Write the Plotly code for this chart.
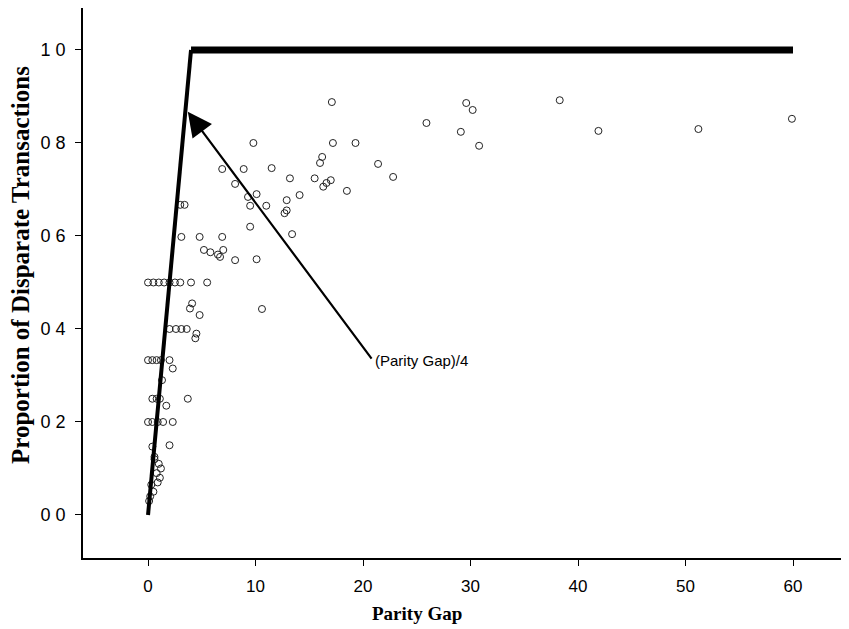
import plotly.graph_objects as go

# Observed transactions: parity gap vs proportion of disparate transactions
gap = [0, 0.5, 1, 1.5, 2, 2.5, 3, 4.0, 5.5,
       0, 0.4, 0.8, 1.2, 2.0,
       2.0, 2.6, 3.1, 3.6,
       3.0, 3.4,
       4.1, 3.9, 4.4, 4.5, 4.8,
       0.4, 0.8, 1.1, 1.7, 3.7,
       0, 0.4, 0.9, 1.4, 2.3,
       1.3, 2.3, 0.4, 2.0,
       0.6, 1.0, 1.2, 0.8, 1.1, 0.9, 0.3, 0.5, 0.2, 0.6, 0.1,
       3.1, 4.8, 6.9, 5.2, 5.8, 6.5, 7.0, 6.7, 8.1, 10.1, 10.6,
       6.9, 8.9, 11.5, 8.1, 10.1, 9.3, 9.5, 11.0, 9.5, 9.8,
       13.2, 12.9, 14.1, 12.7, 12.9, 13.4,
       15.5, 16.0, 16.2, 16.6, 16.3, 17.0, 18.5, 17.2, 19.3, 17.1,
       21.4, 22.8, 25.9, 29.1, 29.6, 30.2, 30.8, 38.3, 41.9, 51.2, 59.9]
prop = [0.5, 0.5, 0.5, 0.5, 0.5, 0.5, 0.5, 0.5, 0.5,
        0.333, 0.333, 0.333, 0.333, 0.333,
        0.4, 0.4, 0.4, 0.4,
        0.667, 0.667,
        0.455, 0.444, 0.38, 0.39, 0.43,
        0.25, 0.25, 0.25, 0.235, 0.25,
        0.2, 0.2, 0.2, 0.2, 0.2,
        0.29, 0.315, 0.147, 0.15,
        0.125, 0.11, 0.1, 0.09, 0.08, 0.07, 0.065, 0.05, 0.04, 0.12, 0.03,
        0.598, 0.598, 0.598, 0.57, 0.565, 0.56, 0.57, 0.555, 0.548, 0.55, 0.443,
        0.744, 0.744, 0.746, 0.712, 0.69, 0.684, 0.665, 0.665, 0.62, 0.80,
        0.724, 0.677, 0.688, 0.649, 0.655, 0.604,
        0.724, 0.757, 0.77, 0.714, 0.706, 0.72, 0.697, 0.80, 0.80, 0.888,
        0.755, 0.727, 0.843, 0.824, 0.886, 0.871, 0.794, 0.892, 0.826, 0.83, 0.852]

# Reference curve (Parity Gap)/4, capped at 1
ramp_x = [0, 4]
ramp_y = [0, 1]
cap_x = [4, 60]
cap_y = [1, 1]

x_ticks = [0, 10, 20, 30, 40, 50, 60]
y_ticks = [0.0, 0.2, 0.4, 0.6, 0.8, 1.0]
y_ticktext = ["0 0", "0 2", "0 4", "0 6", "0 8", "1 0"]

fig = go.Figure()
fig.add_trace(go.Scatter(x=gap, y=prop, mode="markers",
                         marker=dict(symbol="circle-open", size=7,
                                     color="#222", line=dict(width=1)),
                         showlegend=False, hoverinfo="skip"))
fig.add_trace(go.Scatter(x=ramp_x, y=ramp_y, mode="lines",
                         line=dict(color="black", width=4),
                         showlegend=False))
fig.add_trace(go.Scatter(x=cap_x, y=cap_y, mode="lines",
                         line=dict(color="black", width=7),
                         showlegend=False))

fig.add_annotation(x=3.7, y=0.867, ax=20.9, ay=0.333, axref="x", ayref="y",
                   xref="x", yref="y", text="", showarrow=True,
                   arrowhead=2, arrowsize=2.2, arrowwidth=2.2,
                   arrowcolor="black")
fig.add_annotation(x=20.9, y=0.333, xref="x", yref="y",
                   text="(Parity Gap)/4", showarrow=False,
                   xanchor="left", yanchor="middle",
                   font=dict(family="Liberation Sans, Arial", size=15, color="black"))

# The page body adds an 8px offset; layout numbers below are canvas pixels
OFF = 8
W, H = 849 - OFF, 629 - OFF
L, R, T, B = 75, 0, 0, 71
pw, ph = W - L - R, H - T - B

# Axis titles (positions given in window pixels)
titles = [
    ("<b>Proportion of Disparate Transactions</b>", 20, 265, -90, 25),
    ("<b>Parity Gap</b>", 417, 613, 0, 19),
]
for text, px, py, ang, fs in titles:
    fig.add_annotation(x=(px - OFF - L) / pw, y=(H - B - (py - OFF)) / ph,
                       xref="paper", yref="paper", text=text, showarrow=False,
                       textangle=ang, xanchor="center", yanchor="middle",
                       font=dict(family="Liberation Serif, Times New Roman",
                                 size=fs, color="black"))

fig.update_layout(
    width=W, height=H,
    margin=dict(l=L, r=R, t=T, b=B),
    paper_bgcolor="white", plot_bgcolor="white",
    showlegend=False,
)
fig.update_xaxes(range=[-6.05, 65.21], tickvals=x_ticks, automargin=False,
                 showline=True, linecolor="black", linewidth=1.5, mirror=True,
                 ticks="outside", ticklen=6, tickcolor="black",
                 ticklabelstandoff=6,
                 showgrid=False, zeroline=False,
                 tickfont=dict(family="Liberation Sans, Arial", size=17, color="black"))
fig.update_yaxes(range=[-0.0925, 1.0903], tickvals=y_ticks, ticktext=y_ticktext,
                 automargin=False,
                 showline=True, linecolor="black", linewidth=1.5, mirror=False,
                 ticks="outside", ticklen=6, tickcolor="black",
                 ticklabelstandoff=6,
                 showgrid=False, zeroline=False,
                 tickfont=dict(family="Liberation Sans, Arial", size=18, color="black"))

fig.write_html("out.html")
